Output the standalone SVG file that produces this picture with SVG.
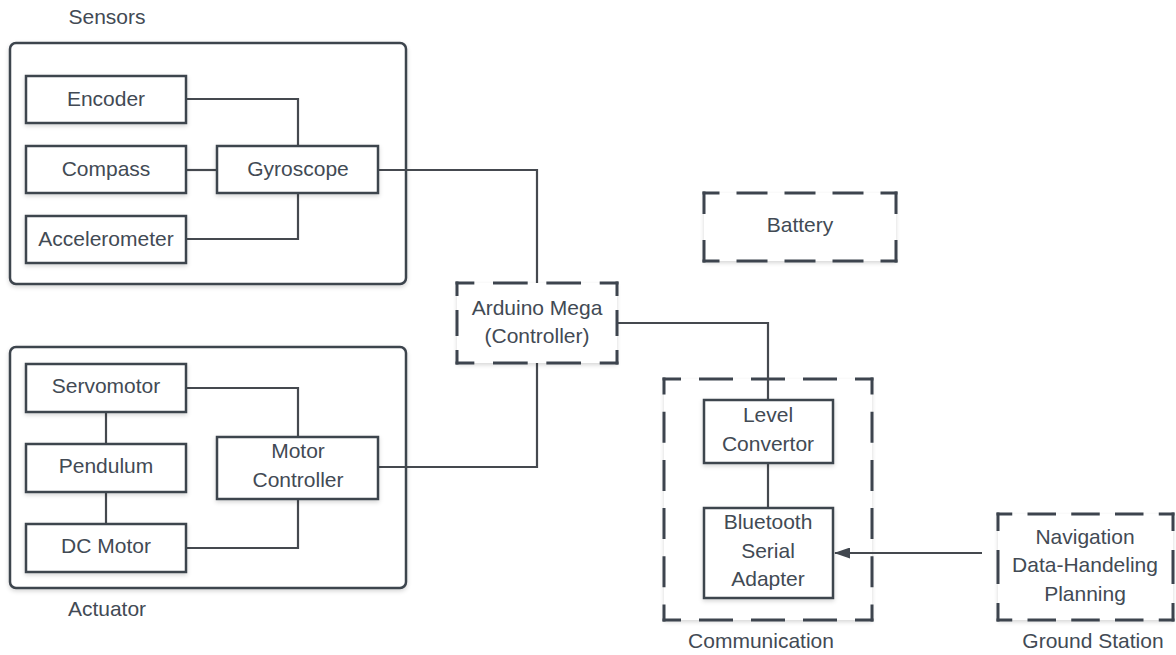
<svg xmlns="http://www.w3.org/2000/svg" width="1176" height="655" viewBox="0 0 1176 655">
<defs>
<filter id="sh" x="-10%" y="-10%" width="130%" height="140%">
<feDropShadow dx="0" dy="2" stdDeviation="2" flood-color="#000" flood-opacity="0.16"/>
</filter>
<marker id="arr" viewBox="0 0 16 11" refX="15" refY="5.5" markerWidth="16" markerHeight="11" markerUnits="userSpaceOnUse" orient="auto">
<path d="M0,0 L16,5.5 L0,11 Z" fill="#40464e"/>
</marker>
<style>
text{font-family:"Liberation Sans",Arial,sans-serif;font-size:21px;fill:#424a54;text-anchor:middle}
.box{fill:#fff;stroke:#3d444e;stroke-width:2.5;filter:url(#sh)}
.cont{fill:#fff;stroke:#3d444e;stroke-width:2.5;filter:url(#sh)}
.bg{fill:#fff;filter:url(#sh)}
.d{fill:none;stroke:#3d444e;stroke-width:3;stroke-linecap:butt}
.con{fill:none;stroke:#45494f;stroke-width:2.2}
</style>
</defs>
<rect width="1176" height="655" fill="#fff"/>

<g id="sensors">
<rect class="cont" x="10" y="43" width="396" height="241" rx="6"/>
<text x="107" y="24">Sensors</text>
</g>
<g id="actuator">
<rect class="cont" x="10" y="347" width="396" height="241" rx="6"/>
<text x="107" y="616">Actuator</text>
</g>
<g id="communication">
<rect class="bg" x="664" y="379" width="208" height="241"/>
<path class="d" d="M662.5,379H873.5M662.5,620H873.5" stroke-dasharray="34 18" stroke-dashoffset="15.5"/>
<path class="d" d="M664,377.5V621.5M872,377.5V621.5" stroke-dasharray="31 17.2" stroke-dashoffset="14"/>
<text x="761" y="648">Communication</text>
</g>

<g id="connectors">
<polyline class="con" points="186,99 298,99 298,146"/>
<line class="con" x1="186" y1="170" x2="217" y2="170"/>
<polyline class="con" points="186,239 298,239 298,193"/>
<polyline class="con" points="378,170 537,170 537,283"/>
<polyline class="con" points="186,388 298,388 298,437"/>
<line class="con" x1="106" y1="412" x2="106" y2="444"/>
<line class="con" x1="106" y1="492" x2="106" y2="524"/>
<polyline class="con" points="186,548 298,548 298,499"/>
<polyline class="con" points="378,467 537,467 537,363"/>
<polyline class="con" points="617,323 768,323 768,400"/>
<line class="con" x1="768" y1="463" x2="768" y2="508"/>
<line class="con" x1="982" y1="553" x2="835" y2="553" marker-end="url(#arr)"/>
</g>

<g id="encoder"><rect class="box" x="26" y="76" width="160" height="47"/><text x="106" y="106">Encoder</text></g>
<g id="compass"><rect class="box" x="26" y="146" width="160" height="47"/><text x="106" y="176">Compass</text></g>
<g id="accelerometer"><rect class="box" x="26" y="216" width="160" height="47"/><text x="106" y="246">Accelerometer</text></g>
<g id="gyroscope"><rect class="box" x="217" y="146" width="161" height="47"/><text x="298" y="176">Gyroscope</text></g>

<g id="servomotor"><rect class="box" x="26" y="364" width="160" height="48"/><text x="106" y="393">Servomotor</text></g>
<g id="pendulum"><rect class="box" x="26" y="444" width="160" height="48"/><text x="106" y="473">Pendulum</text></g>
<g id="dcmotor"><rect class="box" x="26" y="524" width="160" height="48"/><text x="106" y="553">DC Motor</text></g>
<g id="motorcontroller"><rect class="box" x="217" y="437" width="161" height="62"/><text x="298" y="458">Motor</text><text x="298" y="487">Controller</text></g>

<g id="arduino">
<rect class="bg" x="457" y="283" width="160" height="80"/>
<path class="d" d="M455.5,283H618.5M455.5,363H618.5" stroke-dasharray="34.67 18.67" stroke-dashoffset="15.83"/>
<path class="d" d="M457,281.5V364.5M617,281.5V364.5" stroke-dasharray="26 14" stroke-dashoffset="11.5"/>
<text x="537" y="315">Arduino Mega</text><text x="537" y="343">(Controller)</text>
</g>

<g id="battery">
<rect class="bg" x="704" y="193" width="192" height="68"/>
<path class="d" d="M702.5,193H897.5M702.5,261H897.5" stroke-dasharray="31 17" stroke-dashoffset="14"/>
<path class="d" d="M704,191.5V262.5M896,191.5V262.5" stroke-dasharray="42 26" stroke-dashoffset="19.5"/>
<text x="800" y="232">Battery</text>
</g>

<g id="level"><rect class="box" x="704" y="400" width="129" height="63"/><text x="768" y="422">Level</text><text x="768" y="451">Convertor</text></g>
<g id="bluetooth"><rect class="box" x="704" y="508" width="129" height="90"/><text x="768" y="529">Bluetooth</text><text x="768" y="558">Serial</text><text x="768" y="586">Adapter</text></g>

<g id="groundstation">
<rect class="bg" x="998" y="514" width="175" height="106"/>
<path class="d" d="M996.5,514H1174.5M996.5,620H1174.5" stroke-dasharray="28.5 15.25" stroke-dashoffset="12.75"/>
<path class="d" d="M998,512.5V621.5M1173,512.5V621.5" stroke-dasharray="34 19" stroke-dashoffset="15.5"/>
<text x="1085" y="544">Navigation</text><text x="1085" y="572">Data-Handeling</text><text x="1085" y="601">Planning</text>
<text x="1093" y="648">Ground Station</text>
</g>
</svg>
